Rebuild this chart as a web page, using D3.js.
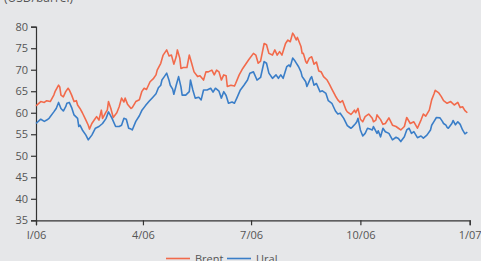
<!DOCTYPE html>
<html>
<head>
<meta charset="utf-8">
<script src="https://cdn.jsdelivr.net/npm/d3@7"></script>
<style>
  html, body { margin: 0; padding: 0; background: #e6e7e9; }
  svg { display: block; }
  text { font-family: "Open Sans", "Noto Sans", sans-serif; }
</style>
</head>
<body>
<svg id="chart" width="481" height="261"></svg>
<script>
// ---- data (day of year 2006, USD/barrel) ----
const brentDays = [1,5,8,10,13,16,17,20,21,22,24,26,28,29,31,33,35,36,38,40,43,45,46,48,50,52,54,56,57,60,61,62,64,66,69,71,73,75,76,78,81,82,85,88,90,92,94,97,100,102,103,106,108,110,111,113,115,117,119,120,122,123,125,128,130,132,134,137,139,142,144,146,149,151,153,155,157,159,161,162,165,168,169,172,175,177,180,184,186,188,190,193,195,197,200,202,204,206,208,211,213,215,217,218,220,221,224,225,226,228,229,231,233,235,237,239,241,243,246,248,250,253,255,257,259,262,263,266,267,269,270,272,274,276,277,278,280,281,284,285,287,288,291,293,295,298,301,304,306,308,311,313,316,319,322,325,327,329,332,334,336,337,340,342,344,347,350,353,356,358,360,362,364];
const brent = [61.6,62.6,62.4,62.8,62.6,64.1,64.9,66.4,66.0,64.1,63.7,64.9,65.7,65.3,64.1,62.6,62.8,61.8,61.0,60.0,58.3,57.1,56.2,57.5,58.3,59.1,58.3,60.6,58.7,60.2,60.6,62.6,61.0,58.9,60.0,61.4,63.4,62.5,63.4,62.0,61.0,61.2,62.6,63.0,64.9,65.7,65.4,67.2,68.0,68.8,69.9,71.5,73.4,74.2,74.6,73.2,73.4,71.3,73.0,74.6,72.7,70.3,70.5,70.5,73.4,71.5,69.5,68.4,68.6,67.6,69.5,69.5,69.9,68.8,69.9,69.5,67.6,68.8,68.6,66.1,66.4,66.2,66.8,68.8,70.3,71.1,72.3,73.8,73.4,71.5,72.0,76.1,75.8,73.8,73.4,74.6,73.4,74.2,73.4,76.1,76.9,76.5,78.5,78.1,76.9,77.5,75.4,73.8,73.8,71.9,71.5,72.7,73.0,71.3,71.8,69.7,69.5,68.4,67.6,66.6,65.5,63.9,63.0,62.4,62.8,60.6,60.2,59.6,59.9,60.6,60.0,61.0,58.5,57.9,58.5,59.1,59.5,59.7,58.7,57.9,58.3,59.5,58.4,57.3,57.5,58.8,57.1,56.8,56.4,56.0,56.8,58.9,57.5,57.9,56.4,58.3,59.7,59.2,60.6,63.0,64.4,65.2,64.6,63.8,62.8,62.2,62.6,61.8,62.4,61.2,61.4,60.5,60.0];

const uralDays = [1,5,8,10,12,16,18,20,22,24,26,27,29,31,33,36,37,38,40,43,45,48,51,54,57,60,62,65,68,71,73,75,77,79,81,82,85,88,90,93,96,99,102,104,106,107,109,111,113,114,116,117,119,121,123,124,127,130,131,133,135,138,140,142,145,148,150,152,155,157,159,161,163,166,168,170,173,176,179,181,184,187,190,193,195,197,200,203,205,207,209,212,214,215,217,219,222,224,225,226,228,229,232,233,235,237,240,242,245,247,250,253,255,257,260,263,264,266,267,270,271,272,274,276,278,280,282,284,285,288,289,291,293,295,298,301,304,306,308,311,313,315,317,319,322,325,327,330,333,334,336,338,341,343,344,346,347,348,351,352,354,356,358,360,362,364];
const ural = [57.5,58.5,58.0,58.3,58.7,60.2,61.0,62.4,61.0,60.4,61.4,62.2,62.4,61.2,59.5,58.7,56.8,57.1,56.0,54.8,53.7,54.8,56.4,56.8,57.5,58.7,60.2,58.7,56.8,56.8,57.1,58.7,58.5,56.4,56.2,56.0,58.0,59.3,60.5,61.6,62.6,63.5,64.4,65.8,66.4,67.6,68.4,69.2,67.5,66.4,65.5,64.3,66.4,68.4,66.0,64.1,64.1,64.9,67.6,65.3,63.4,63.6,63.0,65.3,65.3,65.7,64.8,65.7,65.0,63.4,64.9,64.0,62.2,62.5,62.2,63.4,65.3,66.4,67.6,69.2,69.5,67.6,68.2,71.9,71.5,69.2,68.0,68.8,68.0,68.8,68.0,70.7,71.1,70.7,72.7,72.0,70.7,69.5,68.4,68.0,67.2,66.1,68.0,68.4,66.4,66.8,64.9,65.1,64.5,62.8,62.2,60.4,59.7,59.9,58.7,57.0,56.8,56.4,56.6,57.5,57.9,58.7,56.0,54.6,55.2,56.4,56.2,56.0,56.8,55.2,55.8,54.4,56.4,55.6,55.2,53.7,54.3,54.0,53.3,54.4,56.0,56.4,55.2,55.6,54.2,54.6,54.1,54.8,56.0,57.1,58.0,58.9,58.8,58.0,57.5,57.1,56.6,56.4,57.5,58.2,57.2,57.9,57.3,56.0,55.1,55.5];

const seriesNames = ["Brent", "Ural"];
const seriesColors = ["#f26a4b", "#3a7ec8"];
const yTicks = [35,40,45,50,55,60,65,70,75,80];
const xTickDates = ["2006-01-01","2006-04-01","2006-07-01","2006-10-01","2007-01-01"];
const xTickLabels = ["I/06","4/06","7/06","10/06","1/07"];
const unitLabel = "(USD/barrel)";

// ---- drawing ----
const svg = d3.select("#chart");
const toDate = d => new Date(2006, 0, d);
const parse = d3.timeParse("%Y-%m-%d");

const x = d3.scaleTime().domain([new Date(2006,0,1), new Date(2007,0,1)]).range([36, 469.7]);
const y = d3.scaleLinear().domain([35, 80]).range([220.3, 26.7]);

const axisColor = "#333";
const labelColor = "#555";

svg.append("text").attr("x", 4).attr("y", 2).attr("font-size", 12).attr("fill", labelColor).text(unitLabel);

// y axis
const yAxis = svg.append("g").attr("transform", "translate(36,0)")
  .call(d3.axisLeft(y).tickValues(yTicks).tickSize(5).tickPadding(3).tickFormat(d3.format("d")));
yAxis.select(".domain").attr("stroke", axisColor).attr("stroke-width", 1.2);
yAxis.selectAll(".tick line").attr("stroke", axisColor).attr("stroke-width", 1.2);
yAxis.selectAll("text").attr("font-size", 11).attr("fill", labelColor).attr("font-family", "Open Sans, Noto Sans, sans-serif");

// x axis
const xt = xTickDates.map(parse);
const xAxis = svg.append("g").attr("transform", "translate(0,220.3)")
  .call(d3.axisBottom(x).tickValues(xt).tickSize(5).tickPadding(6)
    .tickFormat((d, i) => xTickLabels[i]));
xAxis.select(".domain").attr("stroke", axisColor).attr("stroke-width", 1.2);
xAxis.selectAll(".tick line").attr("stroke", axisColor).attr("stroke-width", 1.2);
xAxis.selectAll("text").attr("font-size", 11).attr("fill", labelColor).attr("font-family", "Open Sans, Noto Sans, sans-serif");

// lines
const line = d3.line().x(d => x(d[0])).y(d => y(d[1]));
const sets = [
  brentDays.map((d, i) => [toDate(d), brent[i]]),
  uralDays.map((d, i) => [toDate(d), ural[i]])
];
sets.forEach((s, i) => {
  svg.append("path").datum(s).attr("d", line).attr("fill", "none")
    .attr("stroke", seriesColors[i]).attr("stroke-width", 1.6).attr("stroke-linejoin", "round");
});

// legend
const legendX = [166, 227];
seriesNames.forEach((n, i) => {
  const g = svg.append("g").attr("transform", `translate(${legendX[i]},258.5)`);
  g.append("line").attr("x1", 0).attr("x2", 24).attr("y1", 0).attr("y2", 0)
    .attr("stroke", seriesColors[i]).attr("stroke-width", 1.6);
  g.append("text").attr("x", 29).attr("y", 4).attr("font-size", 11).attr("fill", labelColor).text(n);
});
</script>
</body>
</html>
